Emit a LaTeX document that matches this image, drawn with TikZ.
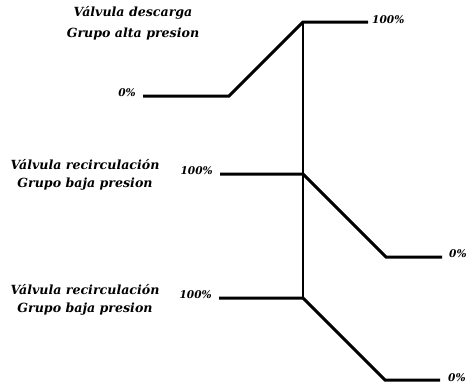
\documentclass[tikz,border=0pt]{standalone}
\usepackage{fontspec}
\setmainfont{DejaVu Serif}
\begin{document}
\begin{tikzpicture}[x=1pt,y=-1pt,
  lbl/.style={font=\bfseries\itshape\fontsize{12.6}{14}\selectfont, inner sep=0pt, align=center},
  pct/.style={font=\bfseries\itshape\fontsize{10.6}{12}\selectfont, inner sep=0pt},
  curve/.style={line width=3pt, line join=miter},
  guide/.style={line width=1.1pt}]
\useasboundingbox (0,0) rectangle (470,389);
% valve A: discharge, high-pressure group
\coordinate (a0) at (143,96);
\coordinate (a1) at (229,96);
\coordinate (a2) at (303,22);
\coordinate (a3) at (368,22);
% valve B: recirculation, low-pressure group
\coordinate (b0) at (220,174);
\coordinate (b1) at (303,174);
\coordinate (b2) at (386,257);
\coordinate (b3) at (442,257);
% valve C: recirculation, low-pressure group
\coordinate (c0) at (219,298);
\coordinate (c1) at (303,298);
\coordinate (c2) at (385,380);
\coordinate (c3) at (440,380);
% switching instant
\draw[guide] (a2) -- (c1);
\draw[curve] (a0) -- (a1) -- (a2) -- (a3);
\draw[curve] (b0) -- (b1) -- (b2) -- (b3);
\draw[curve] (c0) -- (c1) -- (c2) -- (c3);
% labels
\node[lbl] (ta) at (133,23) {Válvula descarga\\[7pt]Grupo alta presion};
\node[lbl] (tb) at (85,175) {Válvula recirculación\\[4pt]Grupo baja presion};
\node[lbl] (tc) at (85,300) {Válvula recirculación\\[4pt]Grupo baja presion};
\node[pct, anchor=east] (pa0) at (136,93) {0\%};
\node[pct, anchor=west] (pa3) at (372,20) {100\%};
\node[pct, anchor=east] (pb0) at (213,171) {100\%};
\node[pct, anchor=west] (pb3) at (449,254) {0\%};
\node[pct, anchor=east] (pc0) at (212,295) {100\%};
\node[pct, anchor=west] (pc3) at (448,378) {0\%};
\end{tikzpicture}
\end{document}
